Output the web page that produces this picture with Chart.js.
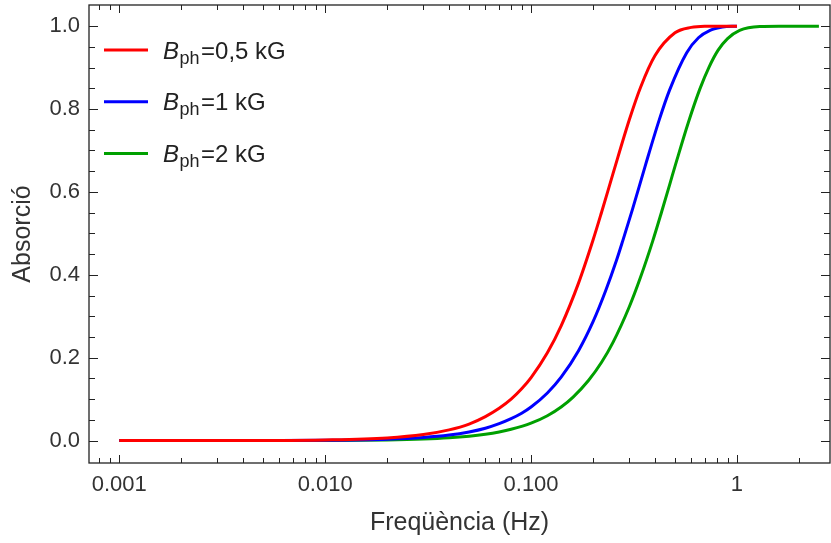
<!DOCTYPE html>
<html>
<head>
<meta charset="utf-8">
<script src="https://cdn.jsdelivr.net/npm/chart.js@4"></script>
<style>
html,body{margin:0;padding:0;background:#fff;}
canvas{display:block;}
</style>
</head>
<body>
<canvas id="c" width="831" height="543"></canvas>
<script>
// ---- data ----
const freqRed  = [0.001,0.002,0.005,0.01,0.02,0.03,0.04,0.05,0.06,0.07,0.08,0.09,0.1,0.12,0.14,0.17,0.2,0.22,0.25,0.3,0.34,0.4,0.5,0.6,0.7,0.85,1.0];
const absRed   = [0,0.0001,0.0004,0.0017,0.0066,0.0148,0.026,0.040,0.058,0.078,0.100,0.125,0.152,0.212,0.277,0.380,0.484,0.551,0.644,0.774,0.852,0.929,0.984,0.997,0.9997,1.0,1.0];

const freqBlue = [0.001,0.002,0.005,0.01,0.02,0.03,0.04,0.05,0.06,0.07,0.08,0.09,0.1,0.12,0.14,0.17,0.2,0.23,0.26,0.28,0.31,0.36,0.42,0.47,0.57,0.65,0.74,0.85,1.0];
const absBlue  = [0,0,0.0002,0.0008,0.0034,0.0076,0.0134,0.021,0.030,0.041,0.053,0.066,0.081,0.115,0.153,0.217,0.287,0.361,0.435,0.485,0.556,0.666,0.775,0.845,0.936,0.972,0.990,0.998,1.0];

const freqGreen = [0.001,0.002,0.005,0.01,0.02,0.03,0.04,0.05,0.06,0.07,0.08,0.1,0.12,0.14,0.16,0.19,0.22,0.25,0.3,0.34,0.39,0.43,0.47,0.51,0.58,0.66,0.73,0.81,0.9,1.03,1.29,1.6,2.0,2.5];
const absGreen  = [0,0,0.0001,0.0004,0.0017,0.0039,0.0069,0.0108,0.0155,0.021,0.0273,0.042,0.060,0.081,0.105,0.145,0.189,0.237,0.323,0.394,0.482,0.551,0.616,0.676,0.767,0.848,0.900,0.942,0.970,0.990,0.9993,1.0,1.0,1.0];

const seriesColors = ['#ff0000','#0000ff','#00a000'];
const legendMain = 'B';
const legendSub = 'ph';
const legendRest = ['=0,5 kG','=1 kG','=2 kG'];

const xTickValues = [0.001,0.01,0.1,1];
const xTickLabels = ['0.001','0.010','0.100','1'];
const yTickValues = [0,0.2,0.4,0.6,0.8,1.0];
const yTickLabels = ['0.0','0.2','0.4','0.6','0.8','1.0'];

const xTitle = 'Freqüència (Hz)';
const yTitle = 'Absorció';

// ---- build ----
function pts(xs, ys){ return xs.map((x,i)=>({x:x, y:ys[i]})); }
const FONT = '"Liberation Sans", Arial, sans-serif';
const TXT = '#333333';

const frameTicks = {
  id:'frameTicks',
  afterDatasetsDraw(chart){
    const {ctx, chartArea:a, scales:{x, y}} = chart;
    ctx.save();
    ctx.strokeStyle = '#222';
    ctx.lineWidth = 1.3;
    ctx.strokeRect(a.left, a.top, a.right-a.left, a.bottom-a.top);
    ctx.lineWidth = 1;
    ctx.beginPath();
    for (let e=-4; e<=0; e++){
      for (let m=1; m<=9; m++){
        const v = m*Math.pow(10,e);
        if (v < x.min || v > x.max) continue;
        const px = Math.round(x.getPixelForValue(v))+0.5;
        const len = (m===1) ? 8 : 5;
        ctx.moveTo(px, a.bottom); ctx.lineTo(px, a.bottom-len);
        ctx.moveTo(px, a.top); ctx.lineTo(px, a.top+len);
      }
    }
    for (let k=0; k<=20; k++){
      const v = k*0.05;
      const py = Math.round(y.getPixelForValue(v))+0.5;
      const len = (k%4===0) ? 9 : 6;
      ctx.moveTo(a.left, py); ctx.lineTo(a.left+len, py);
      ctx.moveTo(a.right, py); ctx.lineTo(a.right-len, py);
    }
    ctx.stroke();
    ctx.restore();
  }
};

const subLegend = {
  id:'subLegend',
  afterDraw(chart){
    const ctx = chart.ctx;
    ctx.save();
    chart.data.datasets.forEach((ds,i)=>{
      const ly = 50 + i*51.7;
      ctx.strokeStyle = ds.borderColor;
      ctx.lineWidth = 3;
      ctx.beginPath(); ctx.moveTo(104, ly); ctx.lineTo(148, ly); ctx.stroke();
      ctx.fillStyle = '#222';
      ctx.textBaseline = 'alphabetic';
      ctx.textAlign = 'left';
      let tx = 163;
      const base = ly + 8.5;
      ctx.font = 'italic 24px ' + FONT;
      ctx.fillText(legendMain, tx, base);
      tx += ctx.measureText(legendMain).width + 0.5;
      ctx.font = '18px ' + FONT;
      ctx.fillText(legendSub, tx, base + 5);
      tx += ctx.measureText(legendSub).width + 1.5;
      ctx.font = '24px ' + FONT;
      ctx.fillText(legendRest[i], tx, base);
    });
    ctx.restore();
  }
};

function zeroPad(s){ s.paddingTop = 0; s.paddingBottom = 0; s.paddingLeft = 0; s.paddingRight = 0; }

new Chart(document.getElementById('c'), {
  type:'line',
  data:{
    datasets:[
      {label:'Bph'+legendRest[0], data:pts(freqRed,absRed), borderColor:seriesColors[0]},
      {label:'Bph'+legendRest[1], data:pts(freqBlue,absBlue), borderColor:seriesColors[1]},
      {label:'Bph'+legendRest[2], data:pts(freqGreen,absGreen), borderColor:seriesColors[2]}
    ].map(d=>Object.assign(d,{borderWidth:3, pointRadius:0, fill:false, cubicInterpolationMode:'monotone'}))
  },
  options:{
    responsive:false,
    devicePixelRatio:1,
    animation:false,
    layout:{padding:{top:5, right:1, left:0, bottom:0}},
    plugins:{legend:{display:false}, tooltip:{enabled:false}},
    scales:{
      x:{
        type:'logarithmic', min:0.000713, max:2.83,
        afterBuildTicks:s=>{ s.ticks = xTickValues.map(v=>({value:v})); },
        afterFit:s=>{ s.height = 80; zeroPad(s); },
        grid:{display:false, drawTicks:false},
        border:{display:false},
        ticks:{ callback:(v,i)=>xTickLabels[i], font:{family:FONT, size:22}, color:TXT, padding:9, maxRotation:0, autoSkip:false },
        title:{display:true, text:xTitle, font:{family:FONT, size:25}, color:TXT, padding:{top:0, bottom:5}}
      },
      y:{
        type:'linear', min:-0.054, max:1.051,
        afterBuildTicks:s=>{ s.ticks = yTickValues.map(v=>({value:v})); },
        afterFit:s=>{ s.width = 89; zeroPad(s); },
        grid:{display:false, drawTicks:false},
        border:{display:false},
        ticks:{ callback:(v,i)=>yTickLabels[i], font:{family:FONT, size:22}, color:TXT, padding:9, autoSkip:false },
        title:{display:true, text:yTitle, font:{family:FONT, size:25}, color:TXT, padding:{top:8, bottom:0}}
      }
    }
  },
  plugins:[frameTicks, subLegend]
});
</script>
</body>
</html>
